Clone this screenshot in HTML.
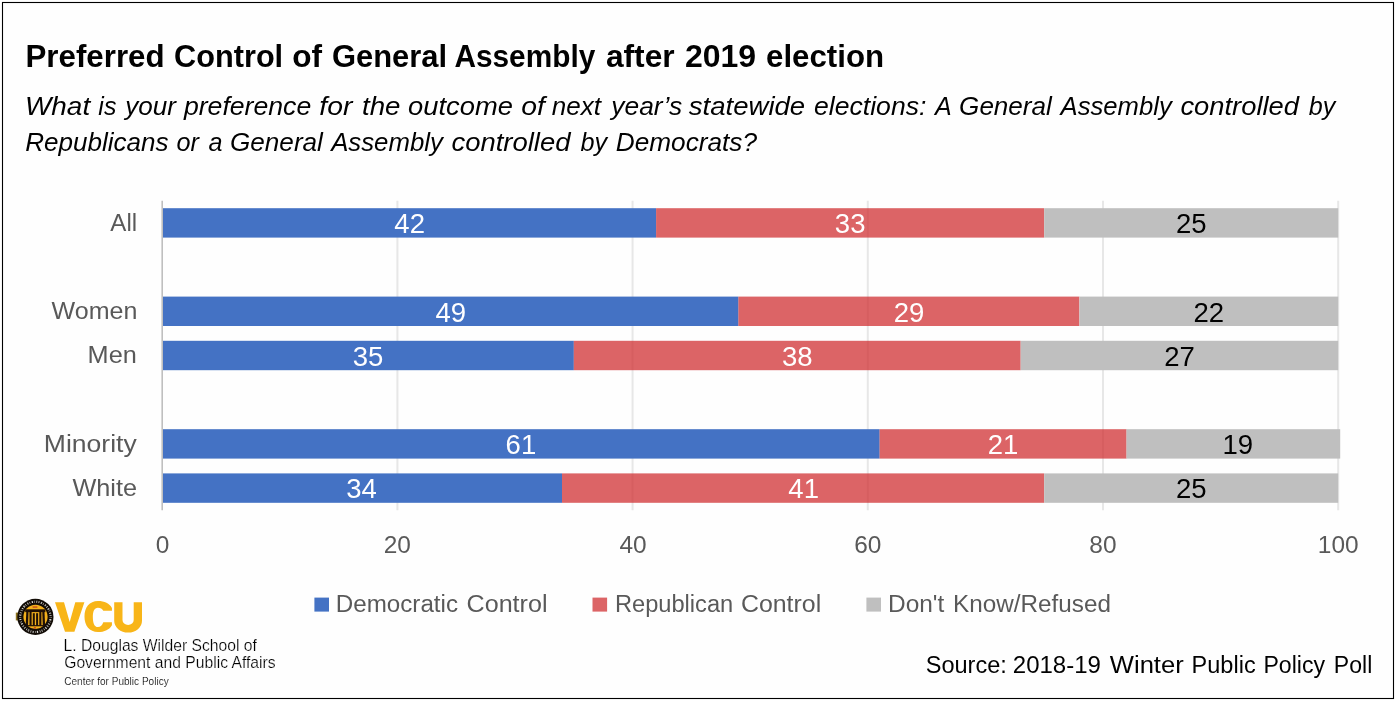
<!DOCTYPE html>
<html lang="en"><head><meta charset="utf-8"><title>Preferred Control of General Assembly after 2019 election</title>
<style>
html,body{margin:0;padding:0;background:#fff;}
body{width:1397px;height:703px;overflow:hidden;font-family:"Liberation Sans",sans-serif;}
svg{display:block;position:absolute;left:0;top:0;}
svg text{font-family:"Liberation Sans",sans-serif;white-space:pre;}
#labels{opacity:0.999;}
</style></head><body>
<svg width="1397" height="703" viewBox="0 0 1397 703">
<rect x="0" y="0" width="1397" height="703" fill="#fff"/>
<rect x="2.5" y="2.5" width="1391" height="696" fill="#fefefe" stroke="#000" stroke-width="1.1"/>
<g id="plot">
<line x1="397.4" y1="200.8" x2="397.4" y2="510.2" stroke="#e7e7e7" stroke-width="2"/>
<line x1="632.6" y1="200.8" x2="632.6" y2="510.2" stroke="#e7e7e7" stroke-width="2"/>
<line x1="867.8" y1="200.8" x2="867.8" y2="510.2" stroke="#e7e7e7" stroke-width="2"/>
<line x1="1103.0" y1="200.8" x2="1103.0" y2="510.2" stroke="#e7e7e7" stroke-width="2"/>
<line x1="1338.2" y1="200.8" x2="1338.2" y2="510.2" stroke="#e7e7e7" stroke-width="2"/>
<line x1="162.2" y1="200.8" x2="162.2" y2="510.2" stroke="#bfbfbf" stroke-width="1.6"/>
<rect x="163.0" y="208.2" width="493.1" height="29.4" fill="#4472c4"/>
<rect x="656.1" y="208.2" width="388.1" height="29.4" fill="rgba(208,46,49,0.74)"/>
<rect x="1044.2" y="208.2" width="294.0" height="29.4" fill="#bfbfbf"/>
<rect x="163.0" y="296.6" width="575.4" height="29.4" fill="#4472c4"/>
<rect x="738.4" y="296.6" width="341.0" height="29.4" fill="rgba(208,46,49,0.74)"/>
<rect x="1079.5" y="296.6" width="258.7" height="29.4" fill="#bfbfbf"/>
<rect x="163.0" y="340.8" width="410.8" height="29.4" fill="#4472c4"/>
<rect x="573.8" y="340.8" width="446.9" height="29.4" fill="rgba(208,46,49,0.74)"/>
<rect x="1020.7" y="340.8" width="317.5" height="29.4" fill="#bfbfbf"/>
<rect x="163.0" y="429.2" width="716.6" height="29.4" fill="#4472c4"/>
<rect x="879.6" y="429.2" width="247.0" height="29.4" fill="rgba(208,46,49,0.74)"/>
<rect x="1126.5" y="429.2" width="213.7" height="29.4" fill="#bfbfbf"/>
<rect x="163.0" y="473.4" width="399.0" height="29.4" fill="#4472c4"/>
<rect x="562.0" y="473.4" width="482.2" height="29.4" fill="rgba(208,46,49,0.74)"/>
<rect x="1044.2" y="473.4" width="294.0" height="29.4" fill="#bfbfbf"/>
<rect x="314.4" y="597.6" width="14.6" height="14" fill="#4472c4"/>
<rect x="592.5" y="597.6" width="14.6" height="14" fill="#dc6466"/>
<rect x="866.4" y="597.6" width="14.6" height="14" fill="#bfbfbf"/>
</g>
<g id="logo">
<rect x="15.8" y="612.6" width="2.4" height="7.8" fill="#8f7420"/>
<circle cx="35.4" cy="616.9" r="18.1" fill="#120c06"/>
<circle cx="35.4" cy="616.9" r="15.2" fill="none" stroke="#fff" stroke-opacity="0.9" stroke-width="2.0" stroke-dasharray="0.8 1.5 1.3 1.2 0.6 1.6 1.0 1.3"/>
<circle cx="35.4" cy="616.9" r="15.2" fill="none" stroke="#120c06" stroke-opacity="0.7" stroke-width="0.7" stroke-dasharray="2.1 1.7"/>
<circle cx="35.5" cy="616.8" r="12.1" fill="#f3b01c"/>
<g fill="#1f1006">
<rect x="25.2" y="609.3" width="20.2" height="2.8"/>
<path d="M26.3,612 h2.2 l-0.5,13.7 h-2.3 z"/>
<path d="M42.3,612 h2.2 l0.6,13.7 h-2.3 z"/>
<rect x="29.5" y="612" width="2.1" height="13.7"/>
<rect x="32.8" y="613.2" width="2" height="12.5"/>
<rect x="36.1" y="613.2" width="2" height="12.5"/>
<rect x="39.3" y="612" width="2.1" height="13.7"/>
<rect x="26" y="625.1" width="18.8" height="1.2"/>
</g>
<g fill="#c0451c"><rect x="32.6" y="606.4" width="4.8" height="1.3"/><rect x="33.8" y="627.2" width="2.2" height="1.4"/></g>
<g fill="#f8b518">
<path d="M55,602.2 L64,602.2 L69.7,621.9 L75.3,602.2 L84.4,602.2 L74.4,631.7 L65,631.7 Z"/>
<path d="M111.94,610.63 L111.94,607.94 C109.5,603.6 104.5,601.07 97.9,601.07 C89.5,601.07 84.48,607.5 84.48,616.6 C84.48,625.7 89.5,632.12 97.9,632.12 C104.5,632.12 109.5,629.6 111.94,625.25 L111.94,622.27 L103.28,622.27 C102.3,625.2 100.5,627.04 97.9,627.04 C94.3,627.04 92.84,622.5 92.84,616.9 C92.84,611.3 94.3,607.64 97.9,607.64 C100.5,607.64 102.3,608.6 103.28,610.63 Z"/>
<path d="M114.2,602.2 H122.5 V620 a5.6,5 0 0 0 11.2,0 V602.2 H142 V620.8 a13.9,11.8 0 0 1 -27.8,0 Z"/>
</g>

</g>
<g id="labels">
<text transform="translate(25.49 67.40) scale(1.0096 1)" font-size="31" fill="#000" font-weight="bold">Preferred</text>
<text transform="translate(174.11 67.40) scale(0.9898 1)" font-size="31" fill="#000" font-weight="bold">Control</text>
<text transform="translate(292.28 67.40) scale(1.0207 1)" font-size="31" fill="#000" font-weight="bold">of</text>
<text transform="translate(331.90 67.40) scale(0.9982 1)" font-size="31" fill="#000" font-weight="bold">General</text>
<text transform="translate(454.44 67.40) scale(0.9616 1)" font-size="31" fill="#000" font-weight="bold">Assembly</text>
<text transform="translate(605.90 67.40) scale(1.0235 1)" font-size="31" fill="#000" font-weight="bold">after</text>
<text transform="translate(684.97 67.40) scale(1.0324 1)" font-size="31" fill="#000" font-weight="bold">2019</text>
<text transform="translate(765.99 67.40) scale(1.0087 1)" font-size="31" fill="#000" font-weight="bold">election</text>
<text transform="translate(24.89 114.50) scale(1.0557 1)" font-size="26.5" fill="#000" font-style="italic">What</text>
<text transform="translate(98.37 114.50) scale(0.9400 1)" font-size="26.5" fill="#000" font-style="italic">is</text>
<text transform="translate(125.17 114.50) scale(0.9855 1)" font-size="26.5" fill="#000" font-style="italic">your</text>
<text transform="translate(183.91 114.50) scale(1.0055 1)" font-size="26.5" fill="#000" font-style="italic">preference</text>
<text transform="translate(319.29 114.50) scale(1.0700 1)" font-size="26.5" fill="#000" font-style="italic">for</text>
<text transform="translate(361.95 114.50) scale(1.0457 1)" font-size="26.5" fill="#000" font-style="italic">the</text>
<text transform="translate(408.10 114.50) scale(1.0327 1)" font-size="26.5" fill="#000" font-style="italic">outcome</text>
<text transform="translate(521.17 114.50) scale(1.0700 1)" font-size="26.5" fill="#000" font-style="italic">of</text>
<text transform="translate(551.70 114.50) scale(0.9824 1)" font-size="26.5" fill="#000" font-style="italic">next</text>
<text transform="translate(611.29 114.50) scale(0.9959 1)" font-size="26.5" fill="#000" font-style="italic">year’s</text>
<text transform="translate(688.80 114.50) scale(1.0402 1)" font-size="26.5" fill="#000" font-style="italic">statewide</text>
<text transform="translate(814.00 114.50) scale(1.0045 1)" font-size="26.5" fill="#000" font-style="italic">elections:</text>
<text transform="translate(934.93 114.50) scale(0.9400 1)" font-size="26.5" fill="#000" font-style="italic">A</text>
<text transform="translate(959.12 114.50) scale(0.9840 1)" font-size="26.5" fill="#000" font-style="italic">General</text>
<text transform="translate(1060.57 114.50) scale(0.9684 1)" font-size="26.5" fill="#000" font-style="italic">Assembly</text>
<text transform="translate(1180.40 114.50) scale(1.0328 1)" font-size="26.5" fill="#000" font-style="italic">controlled</text>
<text transform="translate(1308.70 114.50) scale(0.9483 1)" font-size="26.5" fill="#000" font-style="italic">by</text>
<text transform="translate(25.32 150.50) scale(0.9826 1)" font-size="26.5" fill="#000" font-style="italic">Republicans</text>
<text transform="translate(176.60 150.50) scale(0.9520 1)" font-size="26.5" fill="#000" font-style="italic">or</text>
<text transform="translate(208.40 150.50) scale(0.9500 1)" font-size="26.5" fill="#000" font-style="italic">a</text>
<text transform="translate(230.01 150.50) scale(0.9862 1)" font-size="26.5" fill="#000" font-style="italic">General</text>
<text transform="translate(331.17 150.50) scale(0.9726 1)" font-size="26.5" fill="#000" font-style="italic">Assembly</text>
<text transform="translate(451.50 150.50) scale(1.0362 1)" font-size="26.5" fill="#000" font-style="italic">controlled</text>
<text transform="translate(580.50 150.50) scale(0.9517 1)" font-size="26.5" fill="#000" font-style="italic">by</text>
<text transform="translate(615.81 150.50) scale(0.9887 1)" font-size="26.5" fill="#000" font-style="italic">Democrats?</text>
<text transform="translate(394.37 233.20) scale(1.0200 1)" font-size="27" fill="#fff">42</text>
<text transform="translate(834.86 233.20) scale(1.0200 1)" font-size="27" fill="#fff">33</text>
<text transform="translate(1175.90 233.20) scale(1.0200 1)" font-size="27" fill="#000">25</text>
<text transform="translate(110.30 230.60) scale(0.9846 1)" font-size="24.5" fill="#595959">All</text>
<text transform="translate(435.53 321.60) scale(1.0200 1)" font-size="27" fill="#fff">49</text>
<text transform="translate(893.66 321.60) scale(1.0200 1)" font-size="27" fill="#fff">29</text>
<text transform="translate(1193.54 321.60) scale(1.0200 1)" font-size="27" fill="#000">22</text>
<text transform="translate(51.60 319.00) scale(1.0217 1)" font-size="24.5" fill="#595959">Women</text>
<text transform="translate(352.70 365.80) scale(1.0200 1)" font-size="27" fill="#fff">35</text>
<text transform="translate(781.94 365.80) scale(1.0200 1)" font-size="27" fill="#fff">38</text>
<text transform="translate(1164.14 365.80) scale(1.0200 1)" font-size="27" fill="#000">27</text>
<text transform="translate(87.57 363.20) scale(1.0326 1)" font-size="24.5" fill="#595959">Men</text>
<text transform="translate(505.58 454.20) scale(1.0200 1)" font-size="27" fill="#fff">61</text>
<text transform="translate(987.74 454.20) scale(1.0200 1)" font-size="27" fill="#fff">21</text>
<text transform="translate(1222.43 454.20) scale(1.0200 1)" font-size="27" fill="#000">19</text>
<text transform="translate(43.82 451.60) scale(1.0835 1)" font-size="24.5" fill="#595959">Minority</text>
<text transform="translate(346.31 498.40) scale(1.0200 1)" font-size="27" fill="#fff">34</text>
<text transform="translate(788.33 498.40) scale(1.0200 1)" font-size="27" fill="#fff">41</text>
<text transform="translate(1175.90 498.40) scale(1.0200 1)" font-size="27" fill="#000">25</text>
<text transform="translate(72.40 495.80) scale(1.0323 1)" font-size="24.5" fill="#595959">White</text>
<text transform="translate(155.84 552.60) scale(1.0400 1)" font-size="23.5" fill="#595959">0</text>
<text transform="translate(383.76 552.60) scale(1.0400 1)" font-size="23.5" fill="#595959">20</text>
<text transform="translate(619.48 552.60) scale(1.0400 1)" font-size="23.5" fill="#595959">40</text>
<text transform="translate(854.16 552.60) scale(1.0400 1)" font-size="23.5" fill="#595959">60</text>
<text transform="translate(1089.36 552.60) scale(1.0400 1)" font-size="23.5" fill="#595959">80</text>
<text transform="translate(1317.80 552.60) scale(1.0400 1)" font-size="23.5" fill="#595959">100</text>
<text transform="translate(335.81 611.70) scale(0.9862 1)" font-size="24.5" fill="#595959">Democratic</text>
<text transform="translate(466.58 611.70) scale(1.0247 1)" font-size="24.5" fill="#595959">Control</text>
<text transform="translate(614.93 611.70) scale(0.9653 1)" font-size="24.5" fill="#595959">Republican</text>
<text transform="translate(740.98 611.70) scale(1.0156 1)" font-size="24.5" fill="#595959">Control</text>
<text transform="translate(888.00 611.70) scale(0.9982 1)" font-size="24.5" fill="#595959">Don't</text>
<text transform="translate(953.11 611.70) scale(0.9905 1)" font-size="24.5" fill="#595959">Know/Refused</text>
<text transform="translate(925.72 672.70) scale(0.9812 1)" font-size="24" fill="#000">Source:</text>
<text transform="translate(1012.80 672.70) scale(1.0000 1)" font-size="24" fill="#000">2018-19</text>
<text transform="translate(1109.80 672.70) scale(1.0667 1)" font-size="24" fill="#000">Winter</text>
<text transform="translate(1191.62 672.70) scale(0.9797 1)" font-size="24" fill="#000">Public</text>
<text transform="translate(1263.44 672.70) scale(0.9635 1)" font-size="24" fill="#000">Policy</text>
<text transform="translate(1333.84 672.70) scale(0.9605 1)" font-size="24" fill="#000">Poll</text>
<text transform="translate(63.52 650.50) scale(0.9807 1)" font-size="16" fill="#000" stroke="#fefefe" stroke-width="0.22">L. Douglas Wilder School of</text>
<text transform="translate(64.20 668.30) scale(0.9806 1)" font-size="16" fill="#000" stroke="#fefefe" stroke-width="0.22">Government and Public Affairs</text>
<text transform="translate(64.20 684.90) scale(0.9491 1)" font-size="10.6" fill="#000" stroke="#fefefe" stroke-width="0.15">Center for Public Policy</text>
</g>
</svg>
</body></html>
